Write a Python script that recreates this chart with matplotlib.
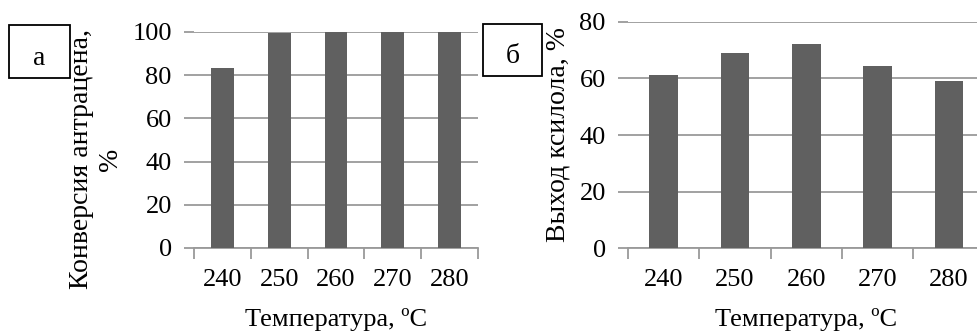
import matplotlib
matplotlib.use("Agg")
import matplotlib.pyplot as plt
from matplotlib.patches import Rectangle

plt.rcParams['font.family'] = ['Liberation Serif', 'DejaVu Serif']

temps = ['240', '250', '260', '270', '280']
conversion = [83.2, 99.6, 100.0, 100.0, 100.0]   # конверсия антрацена, %
xylene_yield = [61.2, 69.0, 72.3, 64.5, 58.9]    # выход ксилола, %

BAR_COLOR = '#606060'
GRID_COLOR = '#9a9a9a'
FS = 19

fig = plt.figure(figsize=(9.78, 3.31), dpi=100)
W, H = 978, 331


def px_axes(left, top, right, bottom):
    return fig.add_axes([left / W, 1 - bottom / H, (right - left) / W, (bottom - top) / H])


def style_axes(ax, vals, ymax, ystep):
    x = range(len(temps))
    ax.bar(x, vals, width=0.4, color=BAR_COLOR, zorder=3)
    ax.set_xlim(-0.5, len(temps) - 0.5)
    ax.set_ylim(0, ymax)
    ax.set_yticks(range(0, ymax + 1, ystep))
    ax.set_xticks(list(x))
    ax.set_xticklabels(temps)
    ax.set_xticks([i - 0.5 for i in range(len(temps) + 1)], minor=True)
    ax.yaxis.grid(True, color=GRID_COLOR, linewidth=1.3, zorder=0)
    for side in ['left', 'right', 'top']:
        ax.spines[side].set_visible(False)
    ax.spines['bottom'].set_color(GRID_COLOR)
    ax.spines['bottom'].set_linewidth(1.3)
    ax.tick_params(axis='y', length=7, width=1.3, color=GRID_COLOR, pad=9, labelsize=FS)
    ax.tick_params(axis='x', which='major', length=0, pad=15, labelsize=FS)
    ax.tick_params(axis='x', which='minor', length=8, width=1.3, color=GRID_COLOR)
    ax.set_xlabel('Температура, ºC', fontsize=FS)


# (а) conversion
ax1 = px_axes(194, 32, 478, 248)
style_axes(ax1, conversion, 100, 20)
ax1.set_ylabel('Конверсия антрацена,\n%', fontsize=20, linespacing=1.2)
ax1.yaxis.set_label_coords(-0.25, 0.41)
ax1.xaxis.set_label_coords(0.5, -0.28)

# (б) xylene yield
ax2 = px_axes(628, 21.7, 984.5, 248.3)
style_axes(ax2, xylene_yield, 80, 20)
ax2.set_ylabel('Выход ксилола, %', fontsize=20)
ax2.yaxis.set_label_coords(-0.162, 0.5)
ax2.xaxis.set_label_coords(0.5, -0.265)

# panel letters in boxes
for (l, t, r, b), letter in [((9, 25, 70, 78), 'а'), ((483, 24, 542, 76), 'б')]:
    fig.patches.append(Rectangle((l / W, 1 - b / H), (r - l) / W, (b - t) / H,
                                 transform=fig.transFigure, fill=False,
                                 edgecolor='black', linewidth=1.3))
    fig.text((l + r) / 2 / W, 1 - (b - 13) / H, letter, fontsize=FS + 1,
             ha='center', va='baseline')

fig.savefig('out.png', dpi=100)
